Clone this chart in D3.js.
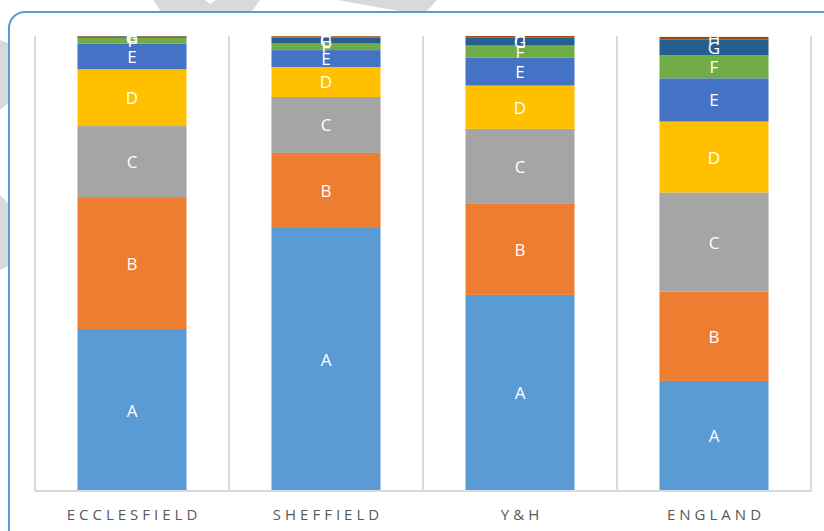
<!DOCTYPE html>
<html>
<head>
<meta charset="utf-8">
<script src="https://cdn.jsdelivr.net/npm/d3@7"></script>
<style>
  html, body { margin: 0; padding: 0; background: #ffffff; }
  svg { display: block; }
</style>
</head>
<body>
<svg id="chart" width="824" height="531"></svg>
<script>
// ---- data ----
const categories = ["ECCLESFIELD", "SHEFFIELD", "Y&H", "ENGLAND"];
const seriesKeys = ["A", "B", "C", "D", "E", "F", "G", "H"];
const seriesColors = ["#5B9BD5", "#ED7D31", "#A5A5A5", "#FFC000", "#4472C4", "#70AD47", "#255E91", "#9E480E"];
const valuesA = [35.6, 58.0, 43.1, 24.2];
const valuesB = [29.0, 16.3, 20.0, 19.6];
const valuesC = [15.6, 12.3, 16.5, 21.8];
const valuesD = [12.5, 6.6, 9.5, 15.6];
const valuesE = [5.6, 3.7, 6.1, 9.5];
const valuesF = [1.3, 1.45, 2.7, 5.1];
const valuesG = [0.3, 1.3, 1.8, 3.4];
const valuesH = [0.1, 0.3, 0.3, 0.6];
const seriesValues = [valuesA, valuesB, valuesC, valuesD, valuesE, valuesF, valuesG, valuesH];

const rows = categories.map((c, i) => {
  const r = { category: c };
  seriesKeys.forEach((k, j) => { r[k] = seriesValues[j][i]; });
  return r;
});

const svg = d3.select("#chart");

// ---- background watermark shapes ----
const wm = svg.append("g").attr("fill", "#d9d9d9");
[
  [[153,0],[205,0],[210,4],[216,0],[260,0],[250,14],[163,14]],
  [[337,0],[437,0],[424,14],[416,14]],
  [[0,40],[22,48],[18,95],[0,110]],
  [[0,195],[10,205],[10,265],[0,270]]
].forEach(p => wm.append("polygon").attr("points", p.map(d => d.join(",")).join(" ")));

// ---- chart frame (rounded border) ----
svg.append("rect")
  .attr("x", 9).attr("y", 12)
  .attr("width", 830).attr("height", 540)
  .attr("rx", 16).attr("ry", 16)
  .attr("fill", "#ffffff")
  .attr("stroke", "#5B9BD5")
  .attr("stroke-width", 2);

// ---- scales ----
const x = d3.scaleBand().domain(categories).range([35, 811]).paddingInner(0.438).paddingOuter(0.219);
const y = d3.scaleLinear().domain([0, 100]).range([491, 36]);

// ---- vertical separators (category tick marks spanning plot) ----
const step = x.step();
const sepPositions = d3.range(categories.length + 1).map(i => 35 + i * step);
svg.append("g").selectAll("line").data(sepPositions).join("line")
  .attr("x1", d => d).attr("x2", d => d)
  .attr("y1", y(100)).attr("y2", y(0))
  .attr("stroke", "#d9d9d9").attr("stroke-width", 2);

// ---- stacked bars ----
const stack = d3.stack().keys(seriesKeys);
const stacked = stack(rows);
const color = d3.scaleOrdinal().domain(seriesKeys).range(seriesColors);

const layers = svg.append("g").selectAll("g").data(stacked).join("g")
  .attr("fill", d => color(d.key));
layers.selectAll("rect").data(d => d).join("rect")
  .attr("x", d => x(d.data.category))
  .attr("width", x.bandwidth())
  .attr("y", d => y(d[1]))
  .attr("height", d => y(d[0]) - y(d[1]));

// ---- segment labels ----
const labels = svg.append("g");
stacked.forEach(layer => {
  layer.forEach(d => {
    labels.append("text")
      .attr("x", x(d.data.category) + x.bandwidth() / 2)
      .attr("y", (y(d[0]) + y(d[1])) / 2)
      .attr("text-anchor", "middle")
      .attr("dominant-baseline", "central")
      .attr("fill", "#ffffff")
      .style("font-family", "'Liberation Sans Narrow', 'Open Sans', sans-serif")
      .style("font-size", "17px")
      .text(layer.key);
  });
});

// ---- baseline axis ----
svg.append("line")
  .attr("x1", 35).attr("x2", 811)
  .attr("y1", y(0)).attr("y2", y(0))
  .attr("stroke", "#d9d9d9").attr("stroke-width", 2);

// ---- category axis labels ----
const spacing = 4;
svg.append("g").selectAll("text").data(categories).join("text")
  .attr("x", d => x(d) + x.bandwidth() / 2 + spacing / 2)
  .attr("y", 520)
  .attr("text-anchor", "middle")
  .attr("fill", "#595959")
  .style("font-family", "'Liberation Sans Narrow', 'Open Sans', sans-serif")
  .style("font-size", "15px")
  .style("letter-spacing", spacing + "px")
  .text(d => d);
</script>
</body>
</html>
